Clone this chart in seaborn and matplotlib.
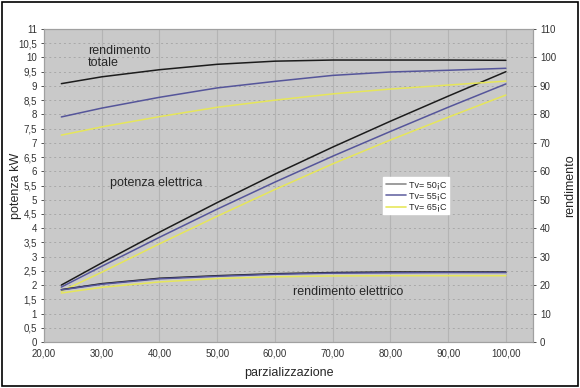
import numpy as np
import pandas as pd
import matplotlib
matplotlib.use('Agg')
import matplotlib.pyplot as plt
from matplotlib.lines import Line2D
import seaborn as sns

# data
parz = [23, 30, 40, 50, 60, 70, 80, 90, 100]
temps = ['Tv= 50¡C', 'Tv= 55¡C', 'Tv= 65¡C']

# potenza elettrica (kW, left axis)
pot_50 = [2.00, 2.78, 3.86, 4.90, 5.90, 6.85, 7.76, 8.64, 9.50]
pot_55 = [1.93, 2.66, 3.68, 4.67, 5.62, 6.53, 7.40, 8.25, 9.07]
pot_65 = [1.78, 2.45, 3.45, 4.42, 5.36, 6.26, 7.10, 7.90, 8.68]

# rendimento totale (%, right axis)
rt_50 = [90.8, 93.2, 95.7, 97.6, 98.7, 99.1, 99.1, 99.1, 99.0]
rt_55 = [79.1, 82.2, 86.0, 89.3, 91.6, 93.7, 94.9, 95.5, 96.2]
rt_65 = [72.7, 75.6, 79.2, 82.5, 85.0, 87.2, 88.9, 90.3, 91.7]

# rendimento elettrico (%, right axis)
re_50 = [18.4, 20.5, 22.4, 23.3, 24.0, 24.4, 24.6, 24.6, 24.6]
re_55 = [18.3, 20.3, 22.2, 23.1, 23.8, 24.2, 24.3, 24.4, 24.4]
re_65 = [17.2, 19.2, 21.1, 22.3, 22.9, 23.2, 23.3, 23.3, 23.3]

x_ticks = [20, 30, 40, 50, 60, 70, 80, 90, 100]
x_labels = ['20,00', '30,00', '40,00', '50,00', '60,00', '70,00', '80,00', '90,00', '100,00']
y_ticks = [0, 0.5, 1, 1.5, 2, 2.5, 3, 3.5, 4, 4.5, 5, 5.5, 6, 6.5, 7, 7.5, 8, 8.5, 9, 9.5, 10, 10.5, 11]
y_labels = [str(v).replace('.', ',') if v % 1 else str(int(v)) for v in y_ticks]
y2_ticks = [0, 10, 20, 30, 40, 50, 60, 70, 80, 90, 100, 110]

colors = ['#1c1c1c', '#55559a', '#e6e65a']
legend_colors = ['#8c8c8c', '#6a6aa6', '#e8e85c']

def long_df(a, b, c):
    rows = []
    for t, vals in zip(temps, [a, b, c]):
        for x, v in zip(parz, vals):
            rows.append({'parz': x, 'val': v, 'Tv': t})
    return pd.DataFrame(rows)

df_pot = long_df(pot_50, pot_55, pot_65)
df_rt = long_df(rt_50, rt_55, rt_65)
df_re = long_df(re_50, re_55, re_65)

sns.set_style('white')
plt.rcParams['font.family'] = ['Liberation Sans', 'DejaVu Sans']

fig = plt.figure(figsize=(5.8, 3.88), dpi=100)
ax = fig.add_axes([0.0759, 0.1186, 0.8431, 0.8066])
ax.set_facecolor('#c9c9c9')
ax2 = ax.twinx()

pal = dict(zip(temps, colors))
sns.lineplot(data=df_pot, x='parz', y='val', hue='Tv', palette=pal, ax=ax, legend=False, linewidth=1.1)
sns.lineplot(data=df_rt, x='parz', y='val', hue='Tv', palette=pal, ax=ax2, legend=False, linewidth=1.1)
sns.lineplot(data=df_re, x='parz', y='val', hue='Tv', palette=pal, ax=ax2, legend=False, linewidth=1.1)

ax.set_xlim(20, 104.7)
ax.set_ylim(0, 11)
ax2.set_ylim(0, 110)

ax.set_xticks(x_ticks)
ax.set_xticklabels(x_labels)
ax.set_yticks(y_ticks)
ax.set_yticklabels(y_labels)
ax2.set_yticks(y2_ticks)

# grid: dotted horizontal, solid light vertical
for y in y_ticks[1:-1]:
    ax.axhline(y, color='#a8a8a8', linestyle=(0, (2, 3)), linewidth=0.7, zorder=0)
for x in x_ticks[1:]:
    ax.axvline(x, color='#b4b4b4', linewidth=0.8, zorder=0)
ax.set_axisbelow(True)

for a in (ax, ax2):
    for s in a.spines.values():
        s.set_color('#a0a0a0')
        s.set_linewidth(0.8)
    a.tick_params(labelsize=7, colors='#333333', length=2, width=0.6, pad=3)
    a.set_ylabel('')

ax.set_xlabel('parzializzazione', fontsize=9, labelpad=6)
ax.set_ylabel('potenza kW', fontsize=9)
ax.yaxis.set_label_coords(-0.046, 0.5)
ax2.set_ylabel('rendimento', fontsize=9, labelpad=6)

ax.text(27.6, 10.45, 'rendimento\ntotale', fontsize=9, va='top', linespacing=1.05)
ax.text(31.5, 5.6, 'potenza elettrica', fontsize=9, va='center')
ax.text(63.2, 1.75, 'rendimento elettrico', fontsize=9, va='center')

handles = [Line2D([0], [0], color=c, linewidth=1.2) for c in legend_colors]
leg = ax.legend(handles, temps, loc='upper left', bbox_to_anchor=(0.685, 0.54), fontsize=6.5,
                frameon=True, fancybox=False, framealpha=1, edgecolor='white',
                handlelength=2.2, handletextpad=0.3, borderpad=0.3, labelspacing=0.25)

# black border around the whole chart
fig.patches.append(plt.Rectangle((0.003, 0.004), 0.994, 0.992, transform=fig.transFigure,
                                 fill=False, edgecolor='black', linewidth=1.2))

fig.savefig('out.png', dpi=100)
